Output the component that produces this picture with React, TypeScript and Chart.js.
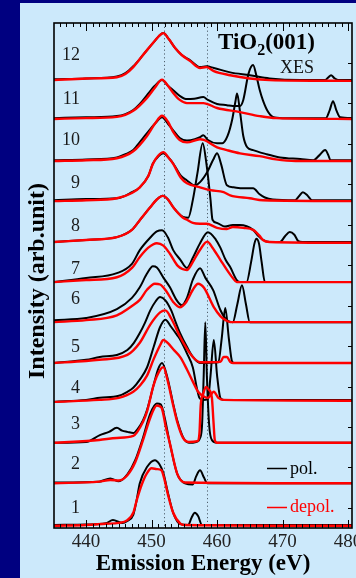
import { useEffect, useRef } from "react";
import { Chart, registerables } from "chart.js";

Chart.register(...registerables);

// ---------- data (emission energy in eV, intensity above each baseline in arb. units) ----------
const energyMin = 435.1;
const energyMax = 480.6;
const tickEnergies = [440, 450, 460, 470, 480];
const guideEnergies = [451.9, 458.4];
const spectrumNames = ["1", "2", "3", "4", "5", "6", "7", "8", "9", "10", "11", "12"];
const offsets = [0, 1.05, 2.05, 3.09, 4.0, 5.01, 6.0, 6.99, 8.02, 9.01, 10.05, 11.01];

const pol1 = [[435.1,0],[440,0.01],[443,0.04],[444.1,0.12],[445.5,0.05],[446.3,0.1],[447.2,0.25],[447.7,0.6],[448.2,1.03],[449.3,1.43],[450.5,1.6],[451.2,1.5],[451.8,1.28],[452.5,0.79],[453.3,0.3],[454.4,0.02],[455.6,0],[456.1,0.18],[456.6,0.3],[457.1,0.22],[457.7,0],[480.6,0]];
const depol1 = [[435.1,-0.02],[440,0],[443,0.03],[445,0.05],[446.3,0.12],[447.2,0.3],[447.8,0.65],[448.5,1.0],[449.3,1.28],[450,1.4],[450.8,1.38],[451.5,1.35],[452,1.1],[452.5,0.75],[453.3,0.3],[454.4,0.03],[455,0],[480.6,-0.02]];
const pol2 = [[435.1,0],[442,0.02],[443.7,0.1],[445,0.03],[446.3,0.2],[447.5,0.55],[448.7,1.11],[449.8,1.7],[450.8,1.95],[451.4,1.93],[452,1.6],[452.8,0.96],[453.9,0.22],[455.1,-0.02],[456.3,-0.05],[456.8,0.15],[457.4,0.3],[458,0.12],[458.5,-0.02],[480.6,-0.02]];
const depol2 = [[435.1,-0.02],[442,0.02],[443.7,0.06],[445,0.05],[446.3,0.18],[447.5,0.5],[448.7,1.05],[449.8,1.6],[450.8,1.9],[451.5,1.85],[452.2,1.35],[452.8,0.96],[453.9,0.22],[455.1,0],[480.6,-0.02]];
const pol3 = [[435.1,-0.02],[440,0],[442.1,0.17],[443.5,0.25],[444.7,0.35],[445.5,0.28],[446.3,0.25],[447.2,0.22],[448,0.35],[448.7,0.54],[449.3,0.79],[450.3,1.4],[451,1.8],[451.6,1.95],[452.4,1.6],[453.3,0.94],[453.9,0.54],[454.8,0.12],[455.7,-0.02],[456.8,0],[457.4,0.1],[457.7,0.4],[457.95,1.6],[458.2,2.96],[458.45,1.6],[458.8,0.4],[459.2,0.05],[460,-0.02],[480.6,-0.02]];
const depol3 = [[435.1,-0.02],[442,0.05],[444.7,0.1],[447.2,0.15],[448.7,0.5],[449.3,0.75],[450.3,1.4],[451.3,1.78],[451.8,1.85],[452.4,1.55],[453.3,0.9],[453.9,0.5],[454.8,0.1],[455.7,0],[457,0.02],[457.3,0.2],[457.5,0.9],[457.9,1.2],[458.3,1.36],[458.7,1.3],[459.2,1.1],[459.45,0.5],[459.65,0.05],[460,-0.02],[480.6,-0.02]];
const pol4 = [[435.1,-0.05],[440,0],[442.1,0.05],[445,0.1],[446.3,0.2],[447.2,0.3],[448.2,0.5],[449.3,0.8],[450.3,1.3],[451.3,1.8],[452.1,1.98],[453,1.8],[453.9,1.6],[454.4,1.48],[455.4,1.15],[456.3,0.8],[456.9,0.3],[457.3,0.05],[457.8,0],[458.6,0.02],[459,0.6],[459.5,1.48],[460,0.6],[460.5,0.05],[461,0],[480.6,0]];
const depol4 = [[435.1,-0.05],[442,0],[445,0.05],[447.2,0.2],[448.2,0.35],[449.3,0.6],[450.3,1.0],[451.3,1.35],[451.8,1.48],[452.5,1.4],[453.3,1.25],[454.4,1.05],[455.4,0.75],[456.3,0.45],[457.1,0.2],[457.8,0.1],[458.6,0.05],[459.5,0.2],[460.2,0.05],[461,0],[480.6,-0.02]];
const pol5 = [[435.1,0],[440,0.08],[442.1,0.15],[444.7,0.2],[446.3,0.32],[447.3,0.5],[448.2,0.74],[449,1.0],[449.8,1.3],[450.6,1.52],[451.3,1.63],[452.1,1.55],[453,1.3],[453.7,1.0],[454.35,0.74],[455.4,0.4],[456.3,0.15],[457.4,0],[460.2,0.02],[460.7,0.6],[461.25,1.36],[461.8,0.6],[462.3,0.03],[462.6,0],[480.6,0]];
const depol5 = [[435.1,0],[440,0.05],[442,0.08],[446.3,0.2],[448.2,0.5],[449.8,0.95],[451.3,1.25],[452.1,1.3],[453,1.1],[454.35,0.65],[455.4,0.35],[456.3,0.15],[457.4,0.02],[460.5,0.03],[461,0.15],[461.5,0.15],[462,0.03],[462.5,0],[480.6,0]];
const pol6 = [[435.1,0.05],[440,0.1],[444.7,0.32],[447,0.6],[448.2,0.86],[449.3,1.2],[450.2,1.38],[450.8,1.35],[451.8,1.1],[452.8,0.86],[453.8,0.55],[454.6,0.42],[455.4,0.6],[456.3,1.05],[457.4,1.33],[458.2,1.1],[459.4,0.79],[460.5,0.3],[461.5,0.05],[462.4,0],[463.1,0.45],[463.8,0.91],[464.4,0.45],[465,0],[480.6,0]];
const depol6 = [[435.1,0],[440,0.05],[444.7,0.17],[447,0.4],[448.2,0.55],[449.3,0.8],[450.5,0.95],[451.3,0.93],[452.3,0.75],[453.3,0.5],[454.3,0.37],[455.3,0.5],[456.3,0.8],[457.1,0.95],[458,0.85],[459.5,0.37],[460.5,0.15],[461.3,0.05],[462,0],[480.6,0]];
const pol7 = [[435.1,0],[440,0.1],[444.7,0.22],[447,0.45],[448.2,0.79],[449.8,1.1],[450.8,1.25],[451.6,1.28],[452.5,1.1],[453.3,0.79],[454.4,0.55],[455.4,0.35],[456.3,0.6],[457.4,0.96],[458.6,1.23],[459.8,1.05],[460.5,0.85],[461.3,0.55],[462,0.37],[463,0.05],[463.5,0],[464.5,0],[465.2,0.5],[465.7,0.95],[466,1.07],[466.4,0.95],[466.8,0.5],[467.3,0],[480.6,0]];
const depol7 = [[435.1,0],[440,0.05],[444.7,0.12],[447,0.35],[448.2,0.62],[449.5,0.85],[450.8,0.96],[451.8,0.9],[452.8,0.7],[454,0.4],[455.4,0.3],[456.3,0.5],[457.4,0.8],[458.5,1.0],[459.3,0.85],[460.5,0.55],[461.5,0.3],[462.4,0.1],[463,0],[480.6,0]];
const pol8 = [[435.1,0],[440,0.05],[444.7,0.12],[447,0.3],[448.2,0.54],[449.8,0.86],[450.8,1.05],[451.7,1.14],[452.5,1.05],[453.3,0.86],[454.8,0.62],[455.6,0.6],[456.3,1.04],[457,1.7],[457.8,2.44],[458.4,1.9],[459,1.04],[459.3,0.55],[460,0.47],[461.2,0.38],[462.4,0.42],[463.5,0.42],[465.5,0.3],[466.3,0.15],[467,0.05],[468,0],[469.6,0],[470.4,0.15],[471.1,0.25],[471.8,0.18],[472.4,0.02],[473,0],[480.6,0]];
const depol8 = [[435.1,0],[440,0.05],[444.7,0.12],[447,0.3],[448.2,0.54],[449.8,0.86],[450.8,1.05],[451.7,1.14],[452.5,1.05],[453.3,0.86],[454.8,0.6],[455.4,0.55],[456.3,0.47],[457.4,0.45],[458.4,0.45],[460,0.35],[461.5,0.32],[462.4,0.37],[464,0.35],[465.5,0.3],[466.5,0.15],[467,0.05],[468,0],[480.6,-0.02]];
const pol9 = [[435.1,0],[440,0.03],[444.7,0.05],[447,0.2],[448.2,0.32],[449.5,0.6],[450.2,0.91],[451,1.08],[451.8,1.16],[452.6,1.05],[453.3,0.91],[454.5,0.6],[455.4,0.49],[456.6,0.37],[457.4,0.45],[458.5,0.7],[459.4,1.0],[460,1.16],[460.6,0.9],[461.5,0.37],[462.5,0.32],[464,0.3],[465.5,0.3],[466.5,0.15],[467.3,0.07],[468.5,0.02],[471.9,0],[472.5,0.1],[473.1,0.2],[473.8,0.12],[474.5,0],[480.6,0]];
const depol9 = [[435.1,-0.02],[440,0],[444.7,0.05],[447,0.18],[448.2,0.32],[449.5,0.6],[450.2,0.9],[451,1.1],[451.8,1.19],[452.6,1.05],[453.3,0.9],[454.5,0.55],[455.4,0.42],[457.4,0.32],[459,0.25],[461,0.2],[462,0.12],[465,0.05],[467,0],[480.6,-0.02]];
const pol10 = [[435.1,0],[440,0.02],[444.7,0.07],[446,0.15],[447.2,0.25],[448.2,0.45],[449.3,0.67],[450.5,0.9],[451.6,1.06],[452.5,0.9],[453.3,0.74],[454.3,0.55],[455.4,0.49],[456.6,0.52],[457.4,0.57],[457.9,0.62],[458.6,0.5],[460,0.42],[460.8,0.42],[461.6,0.6],[462.3,1.0],[462.8,1.45],[463.05,1.65],[463.5,1.2],[464,0.6],[464.6,0.32],[465.5,0.25],[467.5,0.15],[469.6,0.07],[472.7,0.03],[474.7,0],[475.6,0.12],[476.5,0.25],[477,0.12],[477.3,0],[480.6,0]];
const depol10 = [[435.1,-0.02],[440,0],[444.7,0.05],[447.2,0.22],[449.3,0.6],[450.5,0.9],[451.6,1.1],[452.5,0.95],[453.3,0.7],[454.3,0.5],[455.4,0.44],[457.4,0.52],[458,0.5],[460,0.32],[461.5,0.25],[463.5,0.17],[466.5,0.1],[469,0.02],[472,-0.02],[480.6,-0.02]];
const pol11 = [[435.1,0],[440,0.02],[444.7,0.05],[446,0.1],[447.2,0.2],[448.2,0.35],[449.3,0.57],[450.5,0.8],[451.6,0.94],[452.5,0.8],[453.3,0.69],[454.3,0.55],[455.4,0.47],[456.5,0.48],[457.9,0.52],[458.6,0.45],[460,0.35],[461.5,0.32],[462.4,0.3],[463.5,0.3],[464,0.45],[464.8,1.1],[465.5,1.31],[466,1.05],[466.5,0.7],[467,0.44],[467.8,0.15],[468.5,0.03],[470,0],[476.6,0],[477.2,0.2],[477.7,0.42],[478.2,0.2],[478.8,0.02],[480.6,0]];
const depol11 = [[435.1,-0.02],[440,0],[444.7,0.03],[447.2,0.18],[449.3,0.5],[450.5,0.75],[451.6,0.95],[452.5,0.8],[453.3,0.62],[454.3,0.45],[455.4,0.37],[457.9,0.37],[460,0.25],[463.5,0.15],[466.5,0.05],[469,0],[480.6,-0.02]];
const pol12 = [[435.1,0],[440,0.02],[444.7,0.07],[446,0.15],[447.2,0.32],[448.2,0.5],[449.3,0.72],[450.5,0.95],[451.2,1.08],[451.8,1.14],[452.6,1.0],[453.6,0.77],[454.6,0.6],[455.9,0.47],[457.4,0.3],[458.4,0.32],[459.5,0.28],[462,0.17],[465,0.1],[468,0.02],[472.7,-0.02],[476.5,-0.02],[477,0.05],[477.4,0.1],[477.9,0.03],[478.5,-0.02],[480.6,-0.02]];
const depol12 = [[435.1,-0.02],[440,0.02],[444.7,0.05],[446,0.13],[447.2,0.3],[448.2,0.5],[449.3,0.72],[450.5,0.95],[451.2,1.08],[451.8,1.14],[452.6,1.0],[453.6,0.77],[454.6,0.6],[455.9,0.45],[457.4,0.28],[458.4,0.3],[459.5,0.2],[462,0.1],[465,0.02],[468,-0.02],[480.6,-0.04]];

const polSeries = [pol1, pol2, pol3, pol4, pol5, pol6, pol7, pol8, pol9, pol10, pol11, pol12];
const depolSeries = [depol1, depol2, depol3, depol4, depol5, depol6, depol7, depol8, depol9, depol10, depol11, depol12];

// ---------- styling ----------
const SERIF = "'Liberation Serif', 'Times New Roman', serif";
const POL_COLOR = "#000000";
const DEPOL_COLOR = "#ff0000";
const NAVY = "#000080";
const PANEL = "#cce9fb";
const labelLift = [0.44, 0.48, 0.47, 0.32, 0.42, 0.59, 0.35, 0.42, 0.45, 0.52, 0.49, 0.64];

const decorPlugin = {
  id: "decor",
  beforeDraw(chart: any) {
    const { ctx, width, height } = chart;
    ctx.save();
    ctx.fillStyle = NAVY;
    ctx.fillRect(0, 0, width, height);
    ctx.fillStyle = PANEL;
    ctx.fillRect(20, 3, width - 20, height - 3);
    ctx.restore();
  },
  beforeDatasetsDraw(chart: any) {
    const { ctx, chartArea, scales } = chart;
    const xs = scales.x;
    ctx.save();
    ctx.strokeStyle = "#4f5f6c";
    ctx.lineWidth = 1;
    ctx.setLineDash([1.2, 2.6]);
    guideEnergies.forEach((e) => {
      const x = Math.round(xs.getPixelForValue(e)) + 0.5;
      ctx.beginPath();
      ctx.moveTo(x, chartArea.top);
      ctx.lineTo(x, chartArea.bottom);
      ctx.stroke();
    });
    ctx.restore();
  },
  afterDatasetsDraw(chart: any) {
    const { ctx, chartArea, scales } = chart;
    const xs = scales.x;
    const ys = scales.y;
    const { left, right, top, bottom } = chartArea;
    ctx.save();
    // frame
    ctx.strokeStyle = "#000";
    ctx.lineWidth = 1.6;
    ctx.strokeRect(left, top, right - left, bottom - top);
    // inward ticks
    ctx.lineWidth = 1;
    for (let e = Math.ceil(energyMin); e <= Math.floor(energyMax); e++) {
      const x = Math.round(xs.getPixelForValue(e)) + 0.5;
      const len = e % 10 === 0 ? 8 : 4;
      ctx.beginPath();
      ctx.moveTo(x, top);
      ctx.lineTo(x, top + len);
      ctx.moveTo(x, bottom);
      ctx.lineTo(x, bottom - len);
      ctx.stroke();
    }
    for (let k = 0; k < 12; k++) {
      const y = Math.round(ys.getPixelForValue(k + 0.42)) + 0.5;
      ctx.beginPath();
      ctx.moveTo(right, y);
      ctx.lineTo(right - 4, y);
      ctx.stroke();
    }
    // spectrum numbers
    ctx.fillStyle = "#1a1a1a";
    ctx.font = `18px ${SERIF}`;
    ctx.textAlign = "right";
    ctx.textBaseline = "alphabetic";
    spectrumNames.forEach((name, i) => {
      const y = ys.getPixelForValue(offsets[i] + labelLift[i]) + 6.2;
      ctx.fillText(name, 80, y);
    });
    // TiO2(001)
    ctx.textAlign = "left";
    ctx.fillStyle = "#000";
    ctx.font = `bold 23px ${SERIF}`;
    let x = 218;
    ctx.fillText("TiO", x, 49);
    x += ctx.measureText("TiO").width;
    ctx.font = `bold 16px ${SERIF}`;
    ctx.fillText("2", x, 55);
    x += ctx.measureText("2").width;
    ctx.font = `bold 23px ${SERIF}`;
    ctx.fillText("(001)", x, 49);
    ctx.font = `18px ${SERIF}`;
    ctx.fillStyle = "#111";
    ctx.fillText("XES", 280, 73);
    // legend
    ctx.lineWidth = 1.5;
    ctx.strokeStyle = POL_COLOR;
    ctx.beginPath();
    ctx.moveTo(267, 468.5);
    ctx.lineTo(287, 468.5);
    ctx.stroke();
    ctx.fillStyle = POL_COLOR;
    ctx.font = `18px ${SERIF}`;
    ctx.fillText("pol.", 290, 474);
    ctx.strokeStyle = DEPOL_COLOR;
    ctx.beginPath();
    ctx.moveTo(267, 507.5);
    ctx.lineTo(287, 507.5);
    ctx.stroke();
    ctx.fillStyle = DEPOL_COLOR;
    ctx.fillText("depol.", 290, 512);
    // y-axis title
    ctx.fillStyle = "#000";
    ctx.font = `bold 24px ${SERIF}`;
    ctx.textAlign = "center";
    ctx.translate(44, 281);
    ctx.rotate(-Math.PI / 2);
    ctx.fillText("Intensity (arb.unit)", 0, 0);
    ctx.restore();
  },
};

export default function App() {
  const canvasRef = useRef<HTMLCanvasElement | null>(null);

  useEffect(() => {
    const canvas = canvasRef.current;
    if (!canvas) return;
    const datasets: any[] = [];
    polSeries.forEach((series, i) => {
      datasets.push({
        label: `pol ${spectrumNames[i]}`,
        data: series.map(([e, v]) => ({ x: e, y: v + offsets[i] })),
        borderColor: POL_COLOR,
        borderWidth: 2,
        pointRadius: 0,
        fill: false,
        cubicInterpolationMode: "monotone",
        order: 2,
      });
    });
    depolSeries.forEach((series, i) => {
      datasets.push({
        label: `depol ${spectrumNames[i]}`,
        data: series.map(([e, v]) => ({ x: e, y: v + offsets[i] })),
        borderColor: DEPOL_COLOR,
        borderWidth: 2.4,
        pointRadius: 0,
        fill: false,
        cubicInterpolationMode: "monotone",
        order: 1,
      });
    });

    const chart = new Chart(canvas, {
      type: "line",
      data: { datasets },
      options: {
        animation: false,
        responsive: false,
        devicePixelRatio: 1,
        layout: { padding: { left: 54, top: 23, right: 4, bottom: 0 } },
        plugins: { legend: { display: false }, tooltip: { enabled: false } },
        scales: {
          x: {
            type: "linear",
            min: energyMin,
            max: energyMax,
            grid: { display: false, drawTicks: false },
            border: { display: false },
            ticks: {
              padding: 3,
              color: "#222",
              autoSkip: false,
              maxRotation: 0,
              font: { family: SERIF, size: 19 },
            },
            afterBuildTicks: (s: any) => {
              s.ticks = tickEnergies.map((v) => ({ value: v }));
            },
            afterFit: (s: any) => {
              s.height = 50;
              s.paddingLeft = 0;
              s.paddingRight = 0;
            },
            title: {
              display: true,
              text: "Emission Energy (eV)",
              color: "#000",
              font: { family: SERIF, size: 23, weight: "bold" },
              padding: { top: 0, bottom: 0 },
            },
          },
          y: { type: "linear", display: false, min: -0.075, max: 12.4 },
        },
      },
      plugins: [decorPlugin],
    });
    return () => chart.destroy();
  }, []);

  return (
    <div style={{ position: "absolute", left: 0, top: 0, width: 356, height: 578 }}>
      <canvas ref={canvasRef} width={356} height={578} style={{ display: "block" }} />
    </div>
  );
}
